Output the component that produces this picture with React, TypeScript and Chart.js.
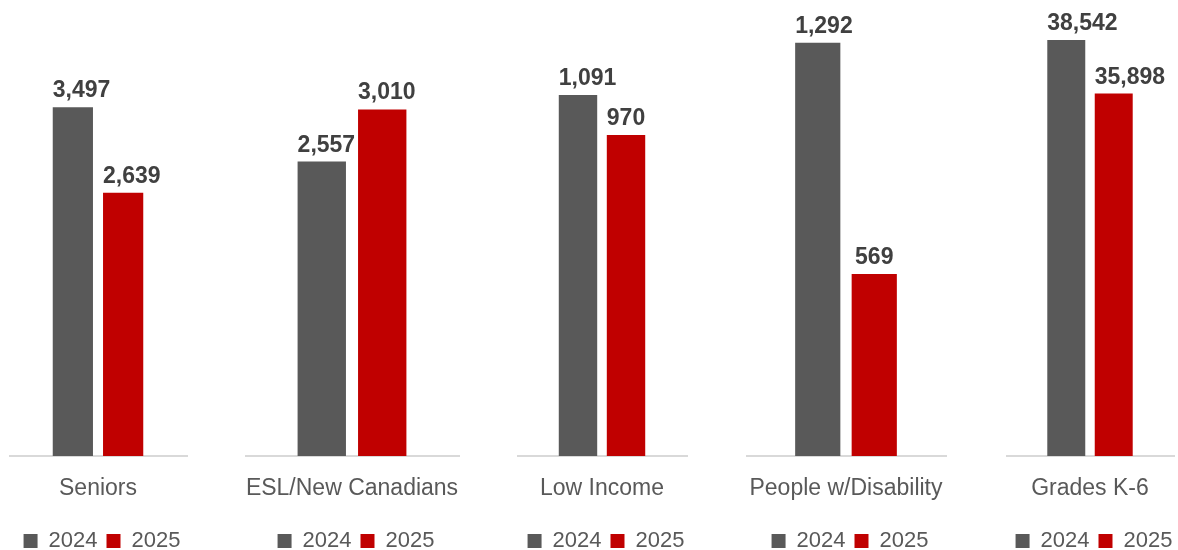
import React, { useEffect, useRef } from "react";
import { Chart, registerables } from "chart.js";

Chart.register(...registerables);

// ---- data ----
const categories = ["Seniors", "ESL/New Canadians", "Low Income", "People w/Disability", "Grades K-6"];
const seriesNames = ["2024", "2025"];
const values2024 = [3497, 2557, 1091, 1292, 38542];
const values2025 = [2639, 3010, 970, 569, 35898];
const axisMin = [0, 0, 0, 0, 18000];
const axisMax = [4000, 3500, 1200, 1400, 40000];

// ---- style / layout ----
const seriesColors = ["#595959", "#C00000"];
const panelLeft = [9, 245, 517, 746, 1006];
const panelWidth = [178, 214, 170, 200, 168];
const panelTop = [57, 53, 59, 8.3, 10.5];
const EXTRA_RIGHT = 8;
const CANVAS_H = 562;
const FONT = "'Liberation Sans', Arial, Helvetica, sans-serif";

const labelPlugin = {
  id: "barValueLabels",
  afterDatasetsDraw(chart: any) {
    const ctx = chart.ctx;
    ctx.save();
    ctx.font = `bold 23px ${FONT}`;
    ctx.fillStyle = "#404040";
    ctx.textAlign = "left";
    ctx.textBaseline = "alphabetic";
    chart.data.datasets.forEach((ds: any, di: number) => {
      const meta = chart.getDatasetMeta(di);
      meta.data.forEach((bar: any, i: number) => {
        const v = ds.data[i] as number;
        const text = v.toLocaleString("en-US");
        const w = ctx.measureText(text).width;
        const { x, y, width } = bar.getProps(["x", "y", "width"], true);
        const left = w > width ? x - width / 2 : x - w / 2;
        ctx.fillText(text, left, y - 10);
      });
    });
    ctx.restore();
  },
};

function Panel({ idx }: { idx: number }) {
  const ref = useRef<HTMLCanvasElement | null>(null);
  useEffect(() => {
    if (!ref.current) return;
    const chart = new Chart(ref.current, {
      type: "bar",
      data: {
        labels: [categories[idx]],
        datasets: [
          { label: seriesNames[0], data: [values2024[idx]], backgroundColor: seriesColors[0] },
          { label: seriesNames[1], data: [values2025[idx]], backgroundColor: seriesColors[1] },
        ],
      },
      options: {
        animation: false,
        responsive: false,
        maintainAspectRatio: false,
        layout: { autoPadding: false, padding: { top: panelTop[idx], left: 0, right: 0, bottom: 0 } },
        datasets: { bar: { categoryPercentage: 0.565, barPercentage: 0.8 } } as any,
        scales: {
          x: {
            grid: { display: false, drawTicks: false },
            border: { display: true, color: "#D9D9D9", width: 2 },
            ticks: { color: "#595959", font: { family: FONT, size: 23, lineHeight: 1.2 }, padding: 18.7 },
            afterFit(scale: any) {
              scale.paddingLeft = 0;
              scale.paddingRight = 0;
            },
          },
          y: {
            position: "right",
            min: axisMin[idx],
            max: axisMax[idx],
            ticks: { display: false },
            grid: { display: false, drawTicks: true, tickLength: EXTRA_RIGHT },
            border: { display: false },
          },
        },
        plugins: {
          legend: {
            position: "bottom",
            labels: {
              boxWidth: 14,
              boxHeight: 14,
              padding: 9,
              color: "#595959",
              font: { family: FONT, size: 22 },
            },
          },
          tooltip: { enabled: false },
        },
      } as any,
      plugins: [labelPlugin as any],
    });
    return () => chart.destroy();
  }, [idx]);
  const w = panelWidth[idx] + EXTRA_RIGHT;
  return (
    <div style={{ position: "absolute", left: panelLeft[idx], top: 0, width: w, height: CANVAS_H }}>
      <canvas ref={ref} width={w} height={CANVAS_H} style={{ display: "block" }} />
    </div>
  );
}

export default function App() {
  return (
    <div
      style={{
        position: "absolute",
        left: 0,
        top: 0,
        width: 1178,
        height: 550,
        overflow: "hidden",
        background: "#ffffff",
      }}
    >
      {categories.map((_, i) => (
        <Panel key={i} idx={i} />
      ))}
    </div>
  );
}
